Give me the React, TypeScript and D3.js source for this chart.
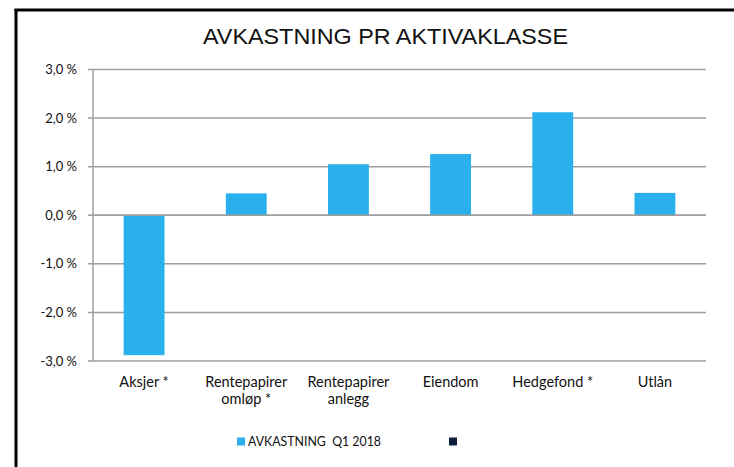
import React from "react";
import * as d3 from "d3";

const categories: string[][] = [
  ["Aksjer *"],
  ["Rentepapirer", "omløp *"],
  ["Rentepapirer", "anlegg"],
  ["Eiendom"],
  ["Hedgefond *"],
  ["Utlån"],
];
const values: number[] = [-2.88, 0.45, 1.05, 1.26, 2.12, 0.46];
const ticks: number[] = [3, 2, 1, 0, -1, -2, -3];
const title = "AVKASTNING PR AKTIVAKLASSE";
const seriesName = "AVKASTNING  Q1 2018";

export default function App() {
  const W = 734, H = 467;
  const left = 93, right = 706, top = 69.5, bottom = 361;
  const x = d3.scaleBand<number>().domain(d3.range(categories.length)).range([left, right]).paddingInner(0.6).paddingOuter(0.3);
  const y = d3.scaleLinear().domain([-3, 3]).range([bottom, top]);
  const fmt = (v: number) => d3.format(".1f")(v).replace(".", ",").replace("−", "-") + " %";
  const font = "Lato, 'Open Sans', sans-serif";
  return (
    <svg width={W} height={H} style={{ position: "absolute", left: 0, top: 0 }}>
      <rect x={0} y={0} width={W} height={H} fill="#fff" />
      <line x1={16} x2={16} y1={9} y2={H} stroke="#000" strokeWidth={3} />
      <line x1={14.5} x2={W} y1={10} y2={10} stroke="#000" strokeWidth={3} />
      <text x={203} y={43.5} textLength={365} lengthAdjust="spacingAndGlyphs" fontFamily="'Liberation Sans', Arial, sans-serif" fontSize={22.5} fill="#111">{title}</text>
      {ticks.map((t) => (
        <g key={t}>
          <line x1={left - 5} x2={right} y1={y(t)} y2={y(t)} stroke="#9e9e9e" strokeWidth={1.5} />
          <text x={77} y={y(t) + 4.5} textAnchor="end" fontFamily={font} fontSize={13} fill="#111">{fmt(t)}</text>
        </g>
      ))}
      <line x1={left} x2={left} y1={top} y2={bottom} stroke="#9e9e9e" strokeWidth={1.5} />
      {values.map((v, i) => (
        <rect key={i} x={x(i)} width={x.bandwidth()} y={y(Math.max(0, v))} height={Math.abs(y(v) - y(0))} fill="#2AB0EC" />
      ))}
      <line x1={left} x2={right} y1={y(0)} y2={y(0)} stroke="#9e9e9e" strokeWidth={1.5} />
      {categories.map((lines, i) => (
        <text key={i} x={(x(i) as number) + x.bandwidth() / 2} y={386.5} textAnchor="middle" fontFamily={font} fontSize={14.5} fill="#111">
          {lines.map((l, j) => (
            <tspan key={j} x={(x(i) as number) + x.bandwidth() / 2} dy={j === 0 ? 0 : 17}>{l}</tspan>
          ))}
        </text>
      ))}
      <rect x={237} y={437.5} width={8} height={8} fill="#2AB0EC" />
      <text x={248} y={446} textLength={133} lengthAdjust="spacingAndGlyphs" fontFamily={font} fontSize={14} fill="#111" style={{ whiteSpace: "pre" }}>{seriesName}</text>
      <rect x={449} y={437.5} width={8} height={8} fill="#0E1F3D" />
    </svg>
  );
}
